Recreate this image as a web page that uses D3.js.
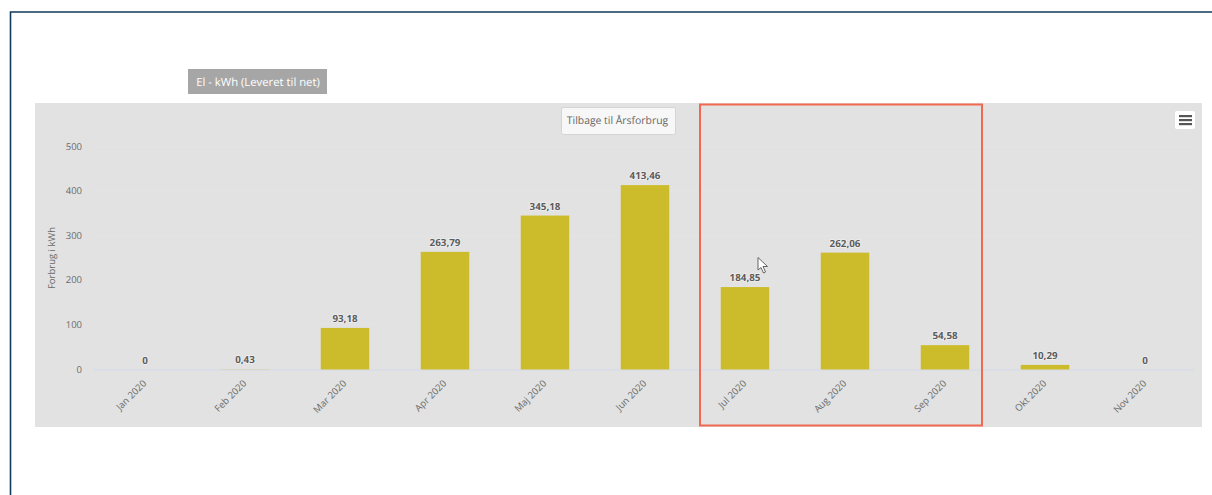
<!DOCTYPE html>
<meta charset="utf-8">
<style>
  html, body { margin: 0; padding: 0; background: #fff; overflow: hidden; }
  svg { display: block; font-family: "Open Sans", sans-serif; }
  text { text-rendering: geometricPrecision; }
</style>

<!-- Load d3.js -->
<script src="https://d3js.org/d3.v7.min.js"></script>

<svg id="chart" width="1212" height="495"></svg>

<script>
    // The data
    const months = ["Jan 2020", "Feb 2020", "Mar 2020", "Apr 2020", "Maj 2020", "Jun 2020",
        "Jul 2020", "Aug 2020", "Sep 2020", "Okt 2020", "Nov 2020"];
    const values = [0, 0.43, 93.18, 263.79, 345.18, 413.46, 184.85, 262.06, 54.58, 10.29, 0];
    const yTicks = [0, 100, 200, 300, 400, 500];

    const svg = d3.select("#chart");

    // page frame
    svg.append("path")
        .attr("d", "M10.5,495 V12 H1212")
        .attr("fill", "none")
        .attr("stroke", "#123a5c")
        .attr("stroke-width", 1.6);

    // chart background
    svg.append("rect")
        .attr("x", 35).attr("y", 103)
        .attr("width", 1167).attr("height", 324)
        .attr("fill", "#e2e2e2");

    // scales
    const x = d3.scaleBand().domain(months).range([95, 1195]).paddingInner(0.515).paddingOuter(0.2575);
    const y = d3.scaleLinear().domain([0, 500]).range([369.5, 146.5]);

    // grid, barely visible in the original
    svg.append("g")
        .selectAll("line")
        .data(yTicks.slice(1))
        .join("line")
        .attr("x1", 94).attr("x2", 1194)
        .attr("y1", d => y(d)).attr("y2", d => y(d))
        .attr("stroke", "#e4e4e4");

    // y axis labels
    svg.append("g")
        .selectAll("text")
        .data(yTicks)
        .join("text")
        .attr("x", 82)
        .attr("y", d => y(d) + 3)
        .attr("text-anchor", "end")
        .attr("font-size", 9.5)
        .attr("fill", "#6a6a6a")
        .text(d => d);

    svg.append("text")
        .attr("transform", "translate(55,258) rotate(-90)")
        .attr("text-anchor", "middle")
        .attr("font-size", 9.5)
        .attr("fill", "#6a6a6a")
        .text("Forbrug i kWh");

    // baseline
    svg.append("line")
        .attr("x1", 94).attr("x2", 1194)
        .attr("y1", y(0) + 0.5).attr("y2", y(0) + 0.5)
        .attr("stroke", "#d8dce8")
        .attr("stroke-width", 1.5);

    // bars
    svg.append("g")
        .selectAll("rect")
        .data(values)
        .join("rect")
        .attr("x", (d, i) => x(months[i]))
        .attr("y", d => y(d))
        .attr("width", x.bandwidth())
        .attr("height", d => y(0) - y(d))
        .attr("fill", "#ccbc2b");

    // value labels
    svg.append("g")
        .selectAll("text")
        .data(values)
        .join("text")
        .attr("x", (d, i) => x(months[i]) + x.bandwidth() / 2)
        .attr("y", d => y(d) - 6)
        .attr("text-anchor", "middle")
        .attr("font-size", 9.8)
        .attr("font-weight", 700)
        .attr("fill", "#5c5c5c")
        .attr("stroke", "#fff")
        .attr("stroke-width", 1.5)
        .attr("stroke-opacity", 0.5)
        .attr("paint-order", "stroke")
        .text(d => String(d).replace(".", ","));

    // month labels
    svg.append("g")
        .selectAll("text")
        .data(months)
        .join("text")
        .attr("transform", d => `translate(${x(d) + x.bandwidth() / 2 + 2},384) rotate(-45)`)
        .attr("text-anchor", "end")
        .attr("font-size", 9.5)
        .attr("fill", "#6a6a6a")
        .text(d => d);

    // title label
    svg.append("rect")
        .attr("x", 188).attr("y", 69)
        .attr("width", 139).attr("height", 25)
        .attr("fill", "#a6a6a6");
    svg.append("text")
        .attr("x", 258).attr("y", 86)
        .attr("text-anchor", "middle")
        .attr("font-size", 11.3)
        .attr("fill", "#fff")
        .text("El - kWh (Leveret til net)");

    // drilldown button
    svg.append("rect")
        .attr("x", 561.5).attr("y", 107.5)
        .attr("width", 114).attr("height", 27)
        .attr("rx", 2)
        .attr("fill", "#f7f7f7")
        .attr("stroke", "#d4d4d4");
    svg.append("text")
        .attr("x", 617.5).attr("y", 123.5)
        .attr("text-anchor", "middle")
        .attr("font-size", 10.4)
        .attr("fill", "#666")
        .text("Tilbage til Årsforbrug");

    // menu button
    svg.append("rect")
        .attr("x", 1175).attr("y", 111)
        .attr("width", 20).attr("height", 18)
        .attr("rx", 2)
        .attr("fill", "#fff");
    svg.append("g")
        .selectAll("rect")
        .data([0, 1, 2])
        .join("rect")
        .attr("x", 1179).attr("y", d => 115 + d * 4)
        .attr("width", 13).attr("height", 2.2)
        .attr("fill", "#555");

    // red highlight box
    svg.append("rect")
        .attr("x", 700).attr("y", 104.5)
        .attr("width", 282).attr("height", 321)
        .attr("fill", "none")
        .attr("stroke", "#ef6a50")
        .attr("stroke-width", 2);

    // mouse pointer
    svg.append("path")
        .attr("d", "M758,257.5 V270 L761,267.5 L763.5,273 L765.5,272 L763,266.5 L767.5,266.5 Z")
        .attr("fill", "#fff")
        .attr("stroke", "#555")
        .attr("stroke-width", 0.9);
</script>
